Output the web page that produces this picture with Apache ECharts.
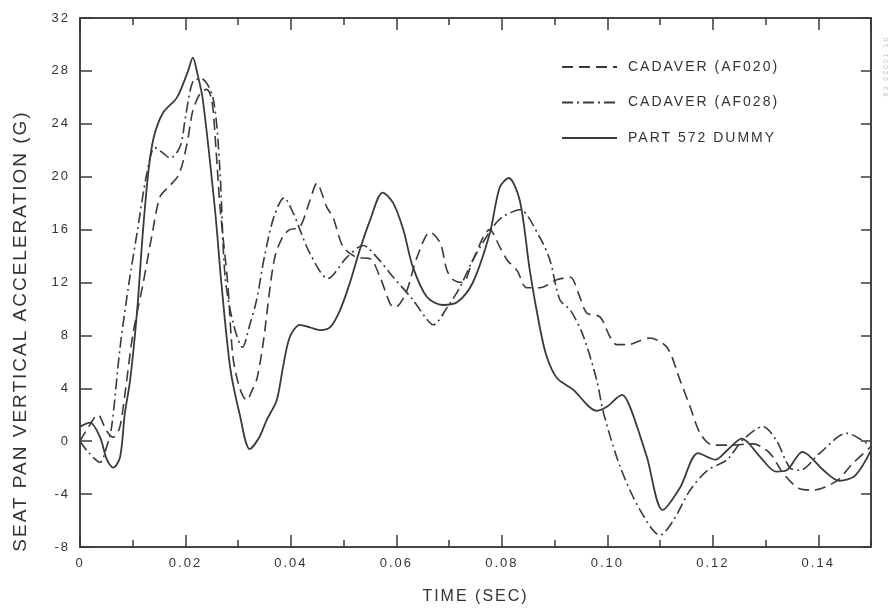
<!DOCTYPE html>
<html>
<head>
<meta charset="utf-8">
<script src="https://cdn.jsdelivr.net/npm/echarts@6/dist/echarts.min.js"></script>
<style>
html, body { margin: 0; padding: 0; background: #fff; }
#chart { width: 892px; height: 610px; letter-spacing: 2px; }
</style>
</head>
<body>
<div id="chart"></div>
<script>
// values (time in sec, acceleration in G)
var seriesNames = ['CADAVER (AF020)', 'CADAVER (AF028)', 'PART 572 DUMMY'];

var af020T = [0, 0.0015, 0.0034, 0.0050, 0.0063, 0.0075, 0.0085, 0.0100, 0.0120, 0.0137, 0.0152, 0.0170, 0.0188, 0.0203, 0.0214, 0.0228, 0.0240, 0.0250, 0.0258, 0.0266, 0.0280, 0.0290, 0.0303, 0.0316, 0.0328, 0.0336, 0.0348, 0.0360, 0.0370, 0.0385, 0.0398, 0.0417, 0.0436, 0.0449, 0.0468, 0.0480, 0.0499, 0.0525, 0.0550, 0.0569, 0.0588, 0.0597, 0.0618, 0.0639, 0.0664, 0.0683, 0.0696, 0.0708, 0.0726, 0.0745, 0.0777, 0.0796, 0.0810, 0.0829, 0.0847, 0.0872, 0.0904, 0.0930, 0.0945, 0.0961, 0.0986, 0.1005, 0.1018, 0.1040, 0.1062, 0.1080, 0.1113, 0.1138, 0.1157, 0.1176, 0.1200, 0.1232, 0.1276, 0.1308, 0.1333, 0.1365, 0.1390, 0.1435, 0.1465, 0.1500];
var af020V = [0.0, 1.0, 2.0, 0.8, 0.3, 1.0, 3.5, 8.0, 12.0, 15.7, 18.5, 19.3, 20.2, 22.5, 25.0, 26.3, 26.6, 25.8, 22.0, 17.5, 12.0, 6.4, 4.0, 3.1, 4.0, 4.8, 7.6, 11.5, 14.0, 15.5, 16.0, 16.2, 18.2, 19.5, 17.7, 16.9, 14.7, 13.9, 13.8, 12.4, 10.4, 10.1, 11.2, 13.9, 15.8, 15.0, 12.9, 12.2, 12.0, 13.7, 16.0, 14.7, 13.7, 12.9, 11.6, 11.6, 12.2, 12.4, 11.2, 9.7, 9.4, 7.9, 7.3, 7.3, 7.6, 7.8, 7.1, 4.6, 2.6, 0.6, -0.3, -0.3, -0.2, -0.9, -2.4, -3.6, -3.7, -3.0, -1.7, -0.4];

var af028T = [0, 0.0015, 0.0038, 0.0050, 0.0060, 0.0076, 0.0093, 0.0108, 0.0127, 0.0142, 0.0157, 0.0171, 0.0190, 0.0200, 0.0214, 0.0230, 0.0252, 0.0265, 0.0275, 0.0290, 0.0308, 0.0322, 0.0335, 0.0350, 0.0368, 0.0387, 0.0405, 0.0417, 0.0436, 0.0470, 0.0506, 0.0537, 0.0563, 0.0594, 0.0631, 0.0658, 0.0670, 0.0696, 0.0720, 0.0745, 0.0783, 0.0803, 0.0834, 0.0872, 0.0891, 0.0910, 0.0930, 0.0954, 0.0980, 0.0993, 0.1025, 0.1062, 0.1100, 0.1125, 0.1157, 0.1190, 0.1227, 0.1257, 0.1295, 0.1320, 0.1346, 0.1365, 0.1403, 0.1454, 0.1500];
var af028V = [0.0, -0.8, -1.6, -0.5, 1.1, 7.1, 12.0, 15.7, 20.3, 22.2, 21.8, 21.4, 22.3, 24.5, 27.2, 27.4, 26.0, 20.7, 12.5, 9.0, 7.1, 8.8, 10.7, 14.0, 17.0, 18.4, 17.2, 16.0, 14.2, 12.3, 13.9, 14.8, 13.9, 12.4, 10.7, 9.2, 8.8, 10.1, 11.6, 13.7, 16.2, 17.0, 17.5, 15.4, 13.7, 10.7, 9.9, 8.0, 4.6, 2.1, -2.0, -5.2, -7.1, -6.0, -3.7, -2.2, -1.4, 0.1, 1.1, 0.1, -2.0, -2.2, -0.9, 0.6, -0.4];

var dummyT = [0, 0.0019, 0.0038, 0.0051, 0.0063, 0.0076, 0.0085, 0.0095, 0.0108, 0.0119, 0.0130, 0.0140, 0.0157, 0.0184, 0.0205, 0.0214, 0.0222, 0.0233, 0.0256, 0.0268, 0.0285, 0.0303, 0.0322, 0.0340, 0.0354, 0.0373, 0.0385, 0.0398, 0.0417, 0.0436, 0.0455, 0.0474, 0.0493, 0.0512, 0.0530, 0.0550, 0.0574, 0.0594, 0.0613, 0.0631, 0.0658, 0.0688, 0.0715, 0.0745, 0.0777, 0.0796, 0.0813, 0.0834, 0.0853, 0.0872, 0.0885, 0.0904, 0.0935, 0.0980, 0.0999, 0.1028, 0.1043, 0.1075, 0.1105, 0.1138, 0.1172, 0.1205, 0.1227, 0.1255, 0.1290, 0.1320, 0.1340, 0.1370, 0.1410, 0.1440, 0.1470, 0.1500];
var dummyV = [1.1, 1.4, 0.3, -1.4, -2.0, -1.2, 2.1, 4.6, 9.7, 15.7, 20.5, 23.0, 24.8, 26.0, 28.0, 29.0, 27.9, 25.8, 17.5, 12.0, 5.5, 2.0, -0.6, 0.3, 1.6, 3.1, 5.6, 7.9, 8.8, 8.6, 8.4, 8.6, 9.9, 12.0, 14.4, 16.7, 18.8, 18.0, 16.0, 13.2, 10.9, 10.3, 10.5, 12.0, 15.7, 19.2, 19.9, 18.2, 12.9, 8.6, 6.4, 4.8, 3.9, 2.3, 2.6, 3.5, 2.6, -1.2, -5.2, -3.5, -0.9, -1.4, -0.7, 0.2, -1.2, -2.3, -2.2, -0.8, -2.2, -3.0, -2.6, -0.7];

var ink = '#3a3a3a';

function pairs(t, v) {
	return t.map(function(x, i) { return [x, v[i]]; });
}

// long ticks every 0.02, short ones every 0.01, on both bottom and top
function xAxisPart(pos, interval, len, major) {
	var withLabels = major && pos === 'bottom';
	return {
		type : 'value',
		position : pos,
		min : 0,
		max : 0.15,
		interval : interval,
		axisLine : { show : major, onZero : false, lineStyle : { color : ink, width : 1.5 } },
		axisTick : { show : true, inside : true, length : len, lineStyle : { color : ink, width : 1.5 } },
		axisLabel : {
			show : withLabels,
			showMaxLabel : false,
			margin : 10,
			fontSize : 13,
			color : '#333',
			formatter : function(v) { return v === 0 ? '0' : v.toFixed(2); }
		},
		splitLine : { show : false },
		name : withLabels ? 'TIME (SEC)' : '',
		nameLocation : 'middle',
		nameGap : 42,
		nameTextStyle : { fontSize : 16, color : '#333' }
	};
}

function yAxisPart(pos, len, withLabels) {
	return {
		type : 'value',
		position : pos,
		min : -8,
		max : 32,
		interval : 4,
		axisLine : { show : true, onZero : false, lineStyle : { color : ink, width : 1.5 } },
		axisTick : { show : true, inside : true, length : len, lineStyle : { color : ink, width : 1.5 } },
		axisLabel : { show : withLabels, margin : 10, fontSize : 13, color : '#333' },
		splitLine : { show : false }
	};
}

var chart = echarts.init(document.getElementById('chart'));
var option = {
	backgroundColor : '#fff',
	animation : false,
	textStyle : { fontFamily : 'Liberation Sans, Arial, sans-serif' },
	grid : { show : true, left : 80, right : 21, top : 18, bottom : 62, borderColor : ink, borderWidth : 1.5, backgroundColor : 'transparent' },
	legend : {
		orient : 'vertical',
		left : 556,
		top : 55,
		itemWidth : 55,
		itemHeight : 14,
		itemGap : 21.5,
		itemStyle : { color : 'transparent', borderColor : 'transparent', borderWidth : 0 },
		textStyle : { fontSize : 14, color : '#333', padding : [0, 0, 0, 6] },
		data : seriesNames
	},
	xAxis : [
		xAxisPart('bottom', 0.02, 12, true),
		xAxisPart('top', 0.02, 12, true),
		xAxisPart('bottom', 0.01, 7, false),
		xAxisPart('top', 0.01, 7, false)
	],
	yAxis : [ yAxisPart('left', 12, true), yAxisPart('right', 10, false) ],
	graphic : [ {
		type : 'text',
		x : 21,
		y : 331,
		rotation : Math.PI / 2,
		style : {
			text : 'SEAT PAN VERTICAL ACCELERATION (G)',
			font : '19px Liberation Sans, Arial, sans-serif',
			fill : '#333',
			align : 'center',
			verticalAlign : 'middle',
			textAlign : 'center',
			textVerticalAlign : 'middle'
		}
	}, {
		type : 'text',
		x : 886,
		y : 66,
		rotation : Math.PI / 2,
		style : {
			text : '83 02001 10',
			font : '7px Liberation Sans, Arial, sans-serif',
			fill : '#c4c4c4',
			align : 'center',
			verticalAlign : 'middle',
			textAlign : 'center',
			textVerticalAlign : 'middle'
		}
	} ],
	series : [ {
		name : seriesNames[0],
		type : 'line',
		symbol : 'none',
		smooth : 0.3,
		lineStyle : { color : ink, width : 1.6, type : [11, 6] },
		data : pairs(af020T, af020V)
	}, {
		name : seriesNames[1],
		type : 'line',
		symbol : 'none',
		smooth : 0.3,
		lineStyle : { color : ink, width : 1.6, type : [11, 4, 2, 4] },
		data : pairs(af028T, af028V)
	}, {
		name : seriesNames[2],
		type : 'line',
		symbol : 'none',
		smooth : 0.3,
		lineStyle : { color : ink, width : 1.8 },
		data : pairs(dummyT, dummyV)
	} ]
};
chart.setOption(option);
</script>
</body>
</html>
